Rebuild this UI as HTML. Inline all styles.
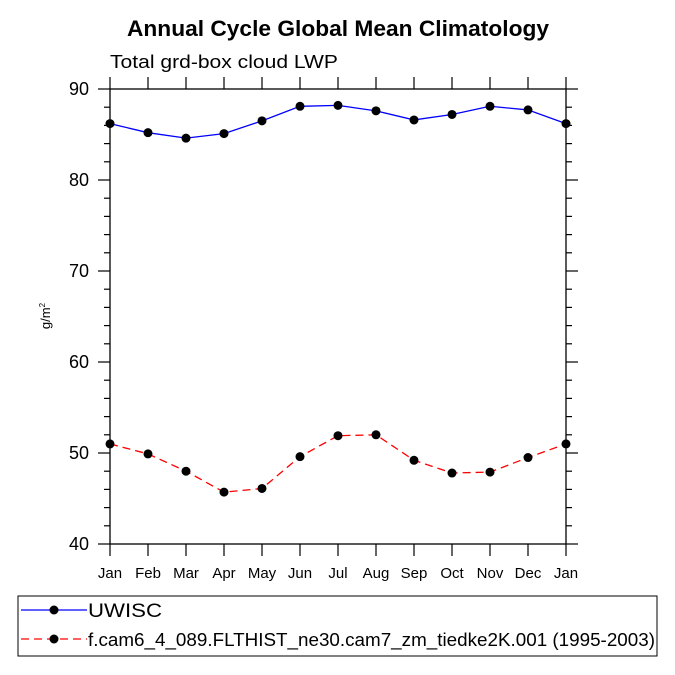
<!DOCTYPE html>
<html><head><meta charset="utf-8"><style>
body{margin:0;background:#fff;}
svg{display:block;font-family:"Liberation Sans",sans-serif;}
</style></head><body>
<svg id="c" width="675" height="675" viewBox="0 0 675 675">
<text x="127" y="36" textLength="422" lengthAdjust="spacingAndGlyphs" font-size="22" font-weight="bold">Annual Cycle Global Mean Climatology</text>
<text x="110" y="68" textLength="228" lengthAdjust="spacingAndGlyphs" font-size="18">Total grd-box cloud LWP</text>
<text transform="translate(50,316) rotate(-90)" text-anchor="middle" font-size="13">g/m<tspan font-size="8" dy="-5">2</tspan></text>
<g id="axes"></g>
<g id="series"></g>
<rect x="18" y="596" width="639" height="60" fill="none" stroke="#000" stroke-width="1"/>
<line x1="21" y1="610" x2="87" y2="610" stroke="#00f" stroke-width="1.3"/>
<circle cx="54" cy="610" r="4.5"/>
<text x="88" y="617" textLength="74" lengthAdjust="spacingAndGlyphs" font-size="19">UWISC</text>
<line x1="21" y1="639" x2="87" y2="639" stroke="#f00" stroke-width="1.3" stroke-dasharray="8,5"/>
<circle cx="54" cy="639" r="4.5"/>
<text x="88" y="646" textLength="567" lengthAdjust="spacingAndGlyphs" font-size="18">f.cam6_4_089.FLTHIST_ne30.cam7_zm_tiedke2K.001 (1995-2003)</text>
</svg>
<script>
const months=["Jan","Feb","Mar","Apr","May","Jun","Jul","Aug","Sep","Oct","Nov","Dec","Jan"];
const uwisc=[86.2,85.2,84.6,85.1,86.5,88.1,88.2,87.6,86.6,87.2,88.1,87.7,86.2];
const model=[51.0,49.9,48.0,45.7,46.1,49.6,51.9,52.0,49.2,47.8,47.9,49.5,51.0];
const yTicks=[40,50,60,70,80,90];
const L=110,R=566,T=89,B=544,yMin=40,yMax=90;
const NS="http://www.w3.org/2000/svg";
function X(i){return L+(R-L)*i/(months.length-1);}
function Y(v){return B-(v-yMin)/(yMax-yMin)*(B-T);}
function mk(tag,attrs,parent){const e=document.createElementNS(NS,tag);for(const k in attrs)e.setAttribute(k,attrs[k]);parent.appendChild(e);return e;}
const ax=document.getElementById('axes'),se=document.getElementById('series');
const fr=mk('rect',{x:L,y:T,width:R-L,height:B-T,fill:'none',stroke:'#000','stroke-width':1.3},ax);


for(let v=yMin;v<=yMax;v+=2){const maj=v%10===0;const len=maj?12:6;
 const a=mk('line',{x1:L-len,x2:L,y1:Y(v),y2:Y(v),stroke:'#000','stroke-width':1.2},ax);
 
 
 const b=mk('line',{x1:R,x2:R+len,y1:Y(v),y2:Y(v),stroke:'#000','stroke-width':1.2},ax);
 
 }
yTicks.forEach(v=>{const t=mk('text',{x:L-21,y:Y(v)+6,'text-anchor':'end','font-size':18},ax);t.textContent=v;
 
 });
months.forEach((m,i)=>{
 const a=mk('line',{x1:X(i),x2:X(i),y1:B,y2:B+12,stroke:'#000','stroke-width':1.2},ax);
 
 
 const b=mk('line',{x1:X(i),x2:X(i),y1:T-12,y2:T,stroke:'#000','stroke-width':1.2},ax);
 
 
 const t=mk('text',{x:X(i),y:578,'text-anchor':'middle','font-size':15},ax);t.textContent=m;
 
 });
function draw(vals,color,dash,name){
 const p=mk('polyline',{points:vals.map((v,i)=>X(i)+','+Y(v)).join(' '),fill:'none',stroke:color,'stroke-width':1.3,'stroke-dasharray':dash},se);
 
 
 vals.forEach((v,i)=>{const c=mk('circle',{cx:X(i),cy:Y(v),r:4.5,fill:'#000'},se);
  
  });}
draw(uwisc,'#00f','none','uwisc');
draw(model,'#f00','8,5','model');
</script>
</body></html>
